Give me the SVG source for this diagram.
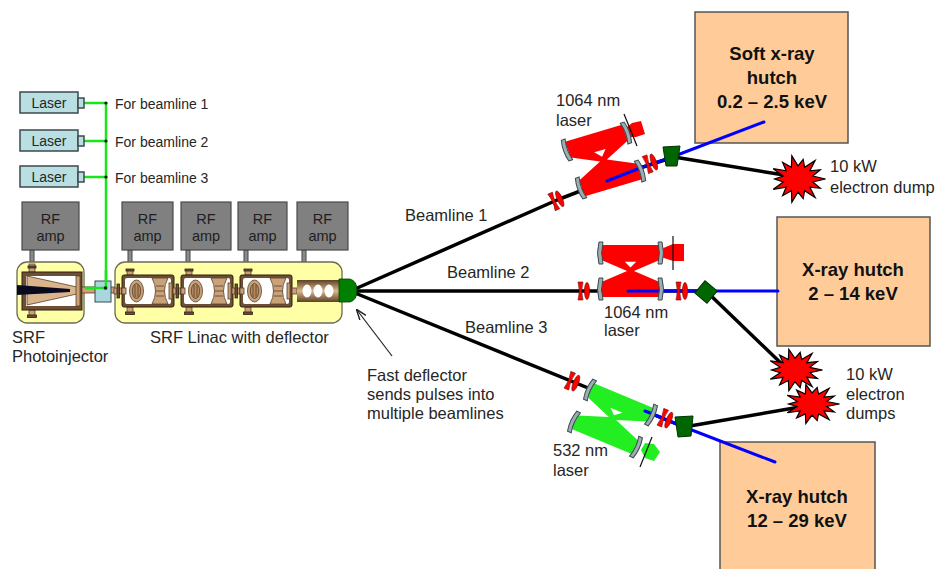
<svg xmlns="http://www.w3.org/2000/svg" width="937" height="569" viewBox="0 0 937 569">
<style>
  text{font-family:"Liberation Sans",Arial,sans-serif;fill:#262626}
  .lbl{font-size:16.5px}
  .sm{font-size:14px}
  .hut{font-size:18.5px;font-weight:bold;text-anchor:middle;fill:#111}
  .rf{fill:#808080;stroke:#4a4a4a;stroke-width:1.2}
  .rft{font-size:14.5px;text-anchor:middle;fill:#1e1e1e}
  .laser{fill:#B9DFE3;stroke:#3c4a4c;stroke-width:1.5}
  .glas{stroke:#1AE51A;stroke-width:2.5;fill:none}
  .cryo{fill:#FFFFA6;stroke:#6b6b55;stroke-width:1.3}
  .ebeam{stroke:#000;stroke-width:3.5;fill:none;stroke-linejoin:round;stroke-linecap:round}
  .xray{stroke:#0000FF;stroke-width:3;fill:none;stroke-linecap:round;stroke-linejoin:round}
  .hutch{fill:#FFCC99;stroke:#555;stroke-width:1.5}
  .mag{fill:#006600;stroke:#003300;stroke-width:1}
  .dump{fill:#FF0000;stroke:#000;stroke-width:1.2}
  .mirror{fill:#9AAEB4;stroke:#3b4b50;stroke-width:1}
  .lens{fill:#FF0000;stroke:#7a0000;stroke-width:0.6}
  .post{fill:#8c8c8c;stroke:#444;stroke-width:1}
  .brown{fill:#6E4F33;stroke:#2e2012;stroke-width:0.8}
  .tan{fill:#C9A27A;stroke:#5a4028;stroke-width:0.8}
</style>
<defs>
  <marker id="arr" viewBox="0 0 10 10" refX="9" refY="5" markerWidth="9" markerHeight="9" orient="auto">
    <path d="M0,1.5 L10,5 L0,8.5" fill="none" stroke="#222" stroke-width="1.3"/>
  </marker>
  <linearGradient id="deflGrad" x1="0" y1="0" x2="0" y2="1">
    <stop offset="0" stop-color="#5E4026"/>
    <stop offset="0.5" stop-color="#D9B98A"/>
    <stop offset="1" stop-color="#5E4026"/>
  </linearGradient>
  <!-- beam dump starburst, unit radius 25 -->
  <polygon id="burst" class="dump" vector-effect="non-scaling-stroke" points="25,0 13.4,3.1 20.3,9.8 10.8,8.6 15.6,19.6 6,12.4 4.7,20.7 0,13.8 -5.6,24.4 -6,12.4 -14,17.6 -10.8,8.6 -22.5,10.9 -13.4,3.1 -21.3,0 -13.4,-3.1 -22.5,-10.9 -10.8,-8.6 -14,-17.6 -6,-12.4 -5.6,-24.4 0,-13.8 4.7,-20.7 6,-12.4 15.6,-19.6 10.8,-8.6 20.3,-9.8 13.4,-3.1"/>
  <!-- focusing lens pair, beam along +x -->
  <g id="lens">
    <path class="lens" d="M-6,-9 L-1,-9 Q-3.5,0 -1,9 L-6,9 Q-3.5,0 -6,-9Z"/>
    <ellipse class="lens" cx="3" cy="0" rx="2.6" ry="8.5"/>
  </g>
  <!-- cavity mirror -->
  <path id="mirror" class="mirror" d="M-2,-11 Q-5,0 -2,11 L2,11 Q-1,0 2,-11 Z"/>
  <!-- bow-tie cavity beam envelope, unit corners -->
  <polygon id="bowtie" points="0,-0.22 1,-0.22 1,0.2 0.56,0.5 1,0.8 1,1.22 0,1.22 0,0.8 0.44,0.5 0,0.2"/>
  <polygon id="bowhole" fill="#fff" points="0.4,0.24 0.6,0.24 0.5,0.4"/>
  <!-- SRF cryomodule -->
  <g id="cmod">
    <rect x="-8" y="13" width="8" height="6" class="tan"/>
    <rect x="-5" y="9" width="2.5" height="14" class="brown"/>
    <rect x="5" y="-5" width="6" height="5" class="tan"/>
    <rect x="4" y="-6" width="8" height="2" class="brown"/>
    <rect x="5" y="32" width="6" height="6" class="tan"/>
    <rect x="3.5" y="37" width="9" height="2.5" class="brown"/>
    <rect x="0" y="0" width="52" height="32" rx="2" fill="#6E4F33" stroke="#2e2012"/>
    <rect x="3" y="3" width="46" height="26" rx="2" fill="#fff"/>
    <rect x="0" y="13" width="4" height="6" class="tan"/>
    <ellipse cx="14.5" cy="16" rx="7" ry="11" class="tan"/>
    <ellipse cx="14.5" cy="16" rx="4.2" ry="7.5" fill="#B38A60" stroke="#5a4028" stroke-width="0.8"/>
    <line x1="13" y1="10" x2="13" y2="22" stroke="#5a4028" stroke-width="0.8"/>
    <line x1="16" y1="10" x2="16" y2="22" stroke="#5a4028" stroke-width="0.8"/>
    <path d="M30,3 H46 Q39,16 46,29 H30 Q37,16 30,3Z" class="tan"/>
    <path d="M34,11 H42 M33.5,16 H42.5 M34,21 H42" stroke="#5a4028" stroke-width="0.8"/>
    <rect x="47" y="8" width="3" height="16" class="tan"/>
  </g>
</defs>

<!-- experimental hutches -->
<g id="hutch-soft">
  <rect class="hutch" x="695" y="12" width="153" height="131"/>
  <text class="hut" x="772" y="60">Soft x-ray</text>
  <text class="hut" x="772" y="84">hutch</text>
  <text class="hut" x="772" y="108">0.2 – 2.5 keV</text>
</g>
<g id="hutch-2">
  <rect class="hutch" x="777" y="217" width="153" height="129"/>
  <text class="hut" x="853" y="276">X-ray hutch</text>
  <text class="hut" x="853" y="300">2 – 14 keV</text>
</g>
<g id="hutch-3">
  <rect class="hutch" x="720" y="442" width="155" height="140"/>
  <text class="hut" x="797" y="503">X-ray hutch</text>
  <text class="hut" x="797" y="527">12 – 29 keV</text>
</g>

<!-- beam lines and fibres -->
<g id="connectors">
  <!-- drive-laser fibres -->
  <path class="glas" d="M84,103 H106 M84,141 H106 M84,177 H106 M106,103 V288 H70"/>
  <!-- RF feeds -->
  <rect class="post" x="30" y="250" width="4" height="18"/>
  <rect class="post" x="128" y="250" width="4" height="19"/>
  <rect class="post" x="186" y="250" width="4" height="19"/>
  <rect class="post" x="244" y="250" width="4" height="19"/>
  <rect class="post" x="302" y="250" width="4" height="30"/>
  <!-- electron beams -->
  <polyline class="ebeam" points="355,289 557,200 640,168 674,157 784,175"/>
  <polyline class="ebeam" points="357,291 706,291 786,368"/>
  <polyline class="ebeam" points="355,293 684,427 800,407"/>
  <!-- x-ray beams -->
  <polyline class="xray" points="607,181 640,168 672,157 764,122"/>
  <polyline class="xray" points="628,291 778,291"/>
  <polyline class="xray" points="645,411 684,427 775,462"/>
  <!-- deflector pointer -->
  <line x1="392" y1="356" x2="357" y2="310" stroke="#222" stroke-width="1.2" marker-end="url(#arr)"/>
</g>

<!-- drive lasers -->
<g id="laser-1">
  <rect class="laser" x="20" y="92" width="58" height="21"/>
  <rect class="laser" x="78" y="98" width="6" height="10" stroke-width="1"/>
  <text class="sm" x="49" y="108" text-anchor="middle">Laser</text>
  <circle cx="106" cy="103" r="1.6" fill="#111"/>
  <text class="sm" x="115" y="109">For beamline 1</text>
</g>
<g id="laser-2">
  <rect class="laser" x="20" y="130" width="58" height="21"/>
  <rect class="laser" x="78" y="136" width="6" height="10" stroke-width="1"/>
  <text class="sm" x="49" y="146" text-anchor="middle">Laser</text>
  <circle cx="106" cy="141" r="1.6" fill="#111"/>
  <text class="sm" x="115" y="146.5">For beamline 2</text>
</g>
<g id="laser-3">
  <rect class="laser" x="20" y="166" width="58" height="21"/>
  <rect class="laser" x="78" y="172" width="6" height="10" stroke-width="1"/>
  <text class="sm" x="49" y="182" text-anchor="middle">Laser</text>
  <circle cx="106" cy="177" r="1.6" fill="#111"/>
  <text class="sm" x="115" y="183">For beamline 3</text>
</g>

<!-- RF amplifiers -->
<g id="rf-0"><rect class="rf" x="22" y="202" width="57" height="48"/><text class="rft" x="50.5" y="224">RF</text><text class="rft" x="50.5" y="241">amp</text></g>
<g id="rf-1"><rect class="rf" x="122" y="202" width="51" height="48"/><text class="rft" x="147.5" y="224">RF</text><text class="rft" x="147.5" y="241">amp</text></g>
<g id="rf-2"><rect class="rf" x="181" y="202" width="50" height="48"/><text class="rft" x="206" y="224">RF</text><text class="rft" x="206" y="241">amp</text></g>
<g id="rf-3"><rect class="rf" x="238" y="202" width="49" height="48"/><text class="rft" x="262.5" y="224">RF</text><text class="rft" x="262.5" y="241">amp</text></g>
<g id="rf-4"><rect class="rf" x="297" y="202" width="51" height="48"/><text class="rft" x="322.5" y="224">RF</text><text class="rft" x="322.5" y="241">amp</text></g>

<!-- SRF photoinjector -->
<g id="photoinjector">
  <rect class="cryo" x="17" y="262" width="67" height="61" rx="10"/>
  <rect x="29" y="264" width="6" height="8" class="tan"/>
  <rect x="28" y="266" width="8" height="2" class="brown"/>
  <rect x="29" y="310" width="6" height="7" class="tan"/>
  <rect x="27.5" y="315" width="9" height="2.5" class="brown"/>
  <rect x="22" y="272" width="60" height="38" fill="#6E4F33" stroke="#2e2012"/>
  <rect x="26" y="276" width="50" height="30" fill="#fff"/>
  <path d="M27,276 L77,287 L77,294 L27,305Z" fill="#D9B48C" stroke="#5a4028" stroke-width="0.8"/>
  <path d="M17,285 L70,289 L70,292 L17,295Z" fill="#0a0a1e"/>
  <rect x="76" y="276" width="4" height="30" class="tan"/>
  <text class="lbl" x="12" y="343">SRF</text>
  <text class="lbl" x="12" y="362">Photoinjector</text>
</g>
<!-- beam pipe and laser port -->
<g id="laser-port">
  <rect x="82" y="287" width="40" height="6" class="tan"/>
  <rect x="95" y="281" width="16" height="21" fill="#A9D7DF" stroke="#3c4a4c" stroke-width="1"/>
  <path class="glas" d="M106,270 V288 H85"/>
  <circle cx="105.5" cy="288" r="1.8" fill="#111"/>
</g>

<!-- SRF linac with deflector -->
<g id="linac">
  <rect class="cryo" x="115" y="262" width="227" height="61" rx="10"/>
  <use href="#cmod" x="122" y="275"/>
  <use href="#cmod" x="181" y="275"/>
  <use href="#cmod" x="240" y="275"/>
  <rect x="292" y="288" width="5" height="6" class="tan"/>
  <rect x="297" y="280" width="42" height="22" fill="url(#deflGrad)"/>
  <ellipse cx="307" cy="291" rx="4.5" ry="6.5" fill="#fff"/>
  <ellipse cx="318" cy="291" rx="4.5" ry="6.5" fill="#fff"/>
  <ellipse cx="329" cy="291" rx="4.5" ry="6.5" fill="#fff"/>
  <path d="M339,279 H350 Q357,281 357,290.5 Q357,300 350,302 H339Z" fill="#008000" stroke="#004000" stroke-width="0.8"/>
  <text class="lbl" x="150" y="343">SRF Linac with deflector</text>
</g>

<g id="deflector-note">
  <text class="lbl" x="367" y="381">Fast deflector</text>
  <text class="lbl" x="367" y="400">sends pulses into</text>
  <text class="lbl" x="367" y="419">multiple beamlines</text>
</g>

<!-- beamline 1: 1064 nm cavity -->
<g id="beamline-1">
  <text class="lbl" x="405" y="221">Beamline 1</text>
  <use href="#lens" transform="translate(557,200) rotate(-24)"/>
  <g transform="matrix(57,-17,14,38,568,150)">
    <use href="#bowtie" fill="#FF0000"/>
    <use href="#bowhole"/>
  </g>
  <polyline class="xray" points="607,181 640,168"/>
  <path d="M626,128 L632,123 L641,121 L645,134 L636,137 L628,137Z" fill="#FF0000"/>
  <line x1="624" y1="114" x2="637" y2="146" stroke="#111" stroke-width="1.2"/>
  <use href="#mirror" transform="translate(567,150) rotate(-20)"/>
  <use href="#mirror" transform="translate(626,133) rotate(-20) scale(-1,1)"/>
  <use href="#mirror" transform="translate(581,188) rotate(-20)"/>
  <use href="#mirror" transform="translate(640,171) rotate(-20) scale(-1,1)"/>
  <use href="#lens" transform="translate(651,163) rotate(-20)"/>
  <polygon class="mag" points="663,147 680,146 677,166 666,166"/>
  <text class="lbl" x="556" y="106">1064 nm</text>
  <text class="lbl" x="556" y="126">laser</text>
</g>

<!-- beamline 2: 1064 nm cavity -->
<g id="beamline-2">
  <text class="lbl" x="447" y="278">Beamline 2</text>
  <use href="#lens" transform="translate(584,291)"/>
  <g transform="matrix(57,0,0,36,602,253)">
    <use href="#bowtie" fill="#FF0000"/>
    <use href="#bowhole"/>
  </g>
  <polyline class="xray" points="628,291 660,291"/>
  <path d="M661,249 L673,244 L684,244 L684,261 L673,261 L661,257Z" fill="#FF0000"/>
  <line x1="673" y1="236" x2="673" y2="270" stroke="#111" stroke-width="1.2"/>
  <use href="#mirror" transform="translate(601,253)"/>
  <use href="#mirror" transform="translate(660,253) scale(-1,1)"/>
  <use href="#mirror" transform="translate(601,289)"/>
  <use href="#mirror" transform="translate(660,289) scale(-1,1)"/>
  <use href="#lens" transform="translate(682,291)"/>
  <rect class="mag" x="698" y="284" width="16" height="16" transform="rotate(40 706 292)"/>
  <text class="lbl" x="604" y="318">1064 nm</text>
  <text class="lbl" x="604" y="336">laser</text>
</g>

<!-- beamline 3: 532 nm cavity -->
<g id="beamline-3">
  <text class="lbl" x="465" y="333">Beamline 3</text>
  <use href="#lens" transform="translate(573,382) rotate(22)"/>
  <g transform="matrix(60,25,-15,32,590,390)">
    <use href="#bowtie" fill="#22EE22"/>
    <use href="#bowhole"/>
  </g>
  <polyline class="xray" points="645,411 660,417"/>
  <path d="M641,450 L645,443 L654,444 L660,452 L654,461 L645,458Z" fill="#22EE22"/>
  <line x1="652" y1="437" x2="640" y2="467" stroke="#111" stroke-width="1.2"/>
  <use href="#mirror" transform="translate(590,390) rotate(25)"/>
  <use href="#mirror" transform="translate(651,415) rotate(25) scale(-1,1)"/>
  <use href="#mirror" transform="translate(574,422) rotate(25)"/>
  <use href="#mirror" transform="translate(636,447) rotate(25) scale(-1,1)"/>
  <use href="#lens" transform="translate(666,419) rotate(22)"/>
  <polygon class="mag" points="675,417 693,416 691,436 678,437"/>
  <text class="lbl" x="553" y="456">532 nm</text>
  <text class="lbl" x="553" y="476">laser</text>
</g>

<!-- electron beam dumps -->
<g id="dump-1">
  <use href="#burst" transform="translate(798,179) scale(1.1,0.95)"/>
  <text class="lbl" x="830" y="172">10 kW</text>
  <text class="lbl" x="830" y="193">electron dump</text>
</g>
<g id="dump-2">
  <use href="#burst" transform="translate(795,370) scale(1.1,0.85)"/>
  <use href="#burst" transform="translate(812,404) scale(1.1,0.8)"/>
  <text class="lbl" x="846" y="380">10 kW</text>
  <text class="lbl" x="846" y="400">electron</text>
  <text class="lbl" x="846" y="419">dumps</text>
</g>
</svg>
